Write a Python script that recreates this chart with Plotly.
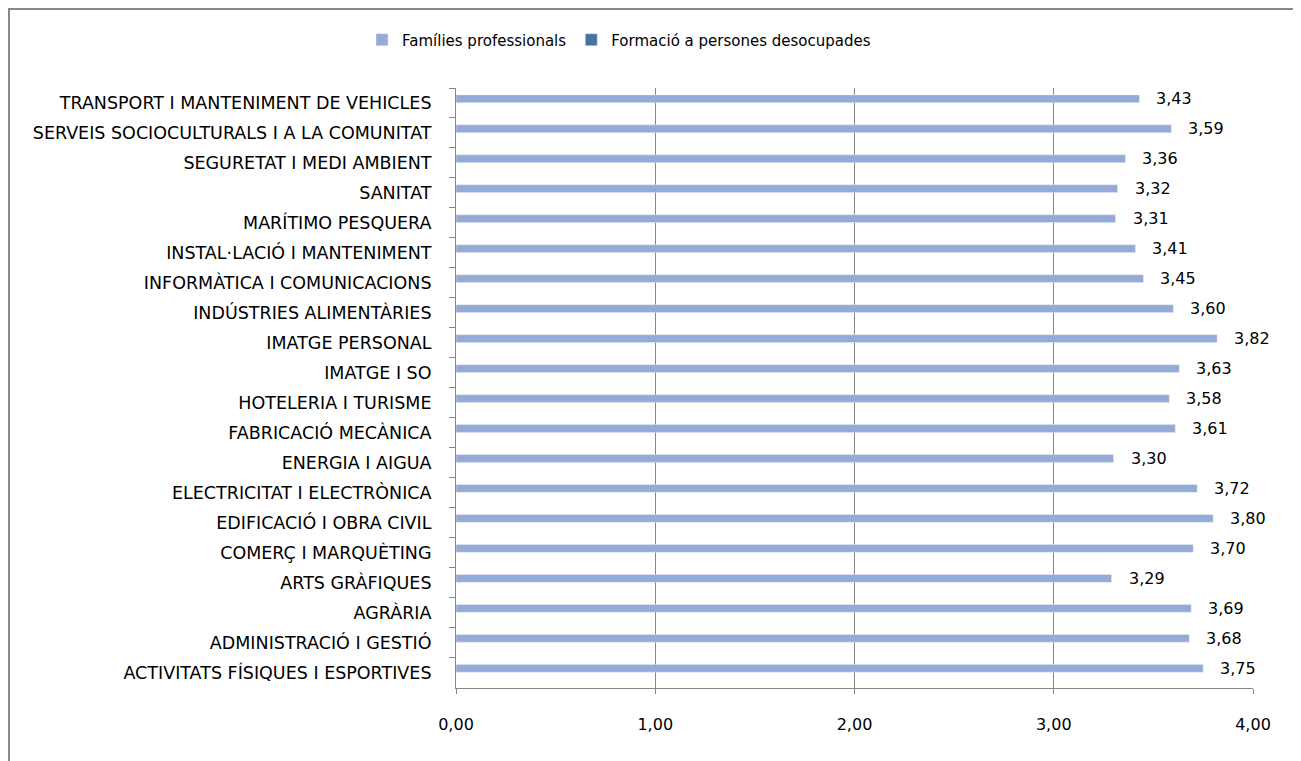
import plotly.graph_objects as go

# categories as listed top to bottom in the chart
categories = [
    "TRANSPORT I MANTENIMENT DE VEHICLES",
    "SERVEIS SOCIOCULTURALS I A LA COMUNITAT",
    "SEGURETAT I MEDI AMBIENT",
    "SANITAT",
    "MARÍTIMO PESQUERA",
    "INSTAL·LACIÓ I MANTENIMENT",
    "INFORMÀTICA I COMUNICACIONS",
    "INDÚSTRIES ALIMENTÀRIES",
    "IMATGE PERSONAL",
    "IMATGE I SO",
    "HOTELERIA I TURISME",
    "FABRICACIÓ MECÀNICA",
    "ENERGIA I AIGUA",
    "ELECTRICITAT I ELECTRÒNICA",
    "EDIFICACIÓ I OBRA CIVIL",
    "COMERÇ I MARQUÈTING",
    "ARTS GRÀFIQUES",
    "AGRÀRIA",
    "ADMINISTRACIÓ I GESTIÓ",
    "ACTIVITATS FÍSIQUES I ESPORTIVES",
]
families = [3.43, 3.59, 3.36, 3.32, 3.31, 3.41, 3.45, 3.60, 3.82, 3.63,
            3.58, 3.61, 3.30, 3.72, 3.80, 3.70, 3.29, 3.69, 3.68, 3.75]
formacio = [None] * len(categories)  # series with no values, legend only

BAR_LIGHT = "#95AAD4"
BAR_DARK = "#4573A8"
GRID = "#868686"
FONT = "DejaVu Sans"

# page is drawn with an 8px body margin, so the figure is shrunk by that
OFF = 8
W, H = 1301 - OFF, 761 - OFF
L, R, T, B = 456 - OFF, 48, 88 - OFF, 73
pw, ph = W - L - R, H - T - B

fig = go.Figure()
fig.add_trace(go.Bar(
    name="Famílies professionals", y=categories, x=families, orientation="h",
    marker=dict(color=BAR_LIGHT), width=0.26, offset=-0.27,
))
fig.add_trace(go.Bar(
    name="Formació a persones desocupades", y=categories, x=formacio, orientation="h",
    marker=dict(color=BAR_DARK), width=0.26, offset=0.0,
))

# value labels next to bar ends
for cat, val in zip(categories, families):
    fig.add_annotation(
        x=val, y=cat, text=f"{val:.2f}".replace(".", ","),
        xanchor="left", yanchor="middle", xshift=15, yshift=4,
        showarrow=False, font=dict(family=FONT, size=16, color="#000000"),
    )

# outer chart frame (figure pixels -> paper coords)
def px_x(p):
    return (p - L) / pw

def px_y(p):
    return (T + ph - p) / ph

fig.add_shape(
    type="rect", xref="paper", yref="paper",
    x0=px_x(1), x1=px_x(1299 - OFF), y0=px_y(H + 20), y1=px_y(1),
    line=dict(color="#898989", width=2), fillcolor="rgba(0,0,0,0)", layer="below",
)

fig.update_layout(
    width=W, height=H,
    margin=dict(l=L, r=R, t=T, b=B),
    paper_bgcolor="white", plot_bgcolor="white",
    separators=",.",
    barmode="overlay",
    font=dict(family=FONT, size=16, color="#000000"),
    showlegend=True,
    legend=dict(
        orientation="h", xref="container", yref="container",
        x=(619 - OFF) / W, xanchor="center", y=1 - (40 - OFF) / H, yanchor="middle",
        font=dict(family=FONT, size=15), itemwidth=30,
    ),
)
fig.update_xaxes(
    range=[0, 4], dtick=1, tickformat=".2f",
    showgrid=True, gridcolor=GRID, gridwidth=1,
    showline=True, linecolor=GRID, linewidth=1,
    ticks="outside", ticklen=5, tickcolor=GRID,
    ticklabelstandoff=17, zeroline=False,
    tickfont=dict(size=16),
)
fig.update_yaxes(
    autorange="reversed", type="category",
    showgrid=False, showline=True, linecolor=GRID, linewidth=1,
    ticks="outside", tickson="boundaries", ticklen=6, tickcolor=GRID,
    ticklabelstandoff=20, tickfont=dict(size=17.5),
)

fig.write_html("out.html")
